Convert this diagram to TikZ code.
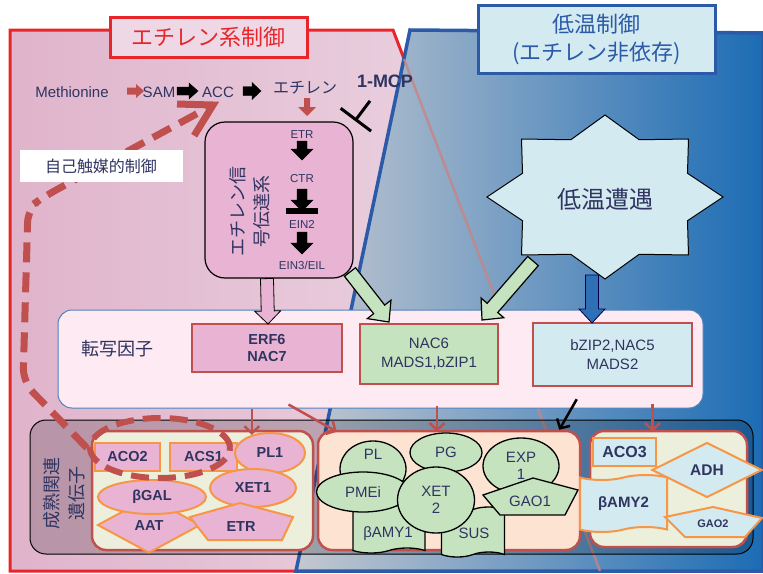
\documentclass[tikz,border=0pt]{standalone}
\usepackage{fontspec}
\setmainfont{Liberation Sans}
\newfontfamily\cjk{Noto Sans CJK JP}
\usetikzlibrary{positioning, calc, arrows.meta, shapes.geometric, shapes.symbols}

\definecolor{ink}{HTML}{2F3461}
\definecolor{brick}{HTML}{C0504D}
\definecolor{redline}{HTML}{E8262A}
\definecolor{blueline}{HTML}{2A5AA8}
\definecolor{titlepink}{HTML}{EED8E6}
\definecolor{pinkL}{HTML}{E0B4CB}
\definecolor{pinkR}{HTML}{EDDAE6}
\definecolor{grayL}{HTML}{C4C8D0}
\definecolor{blueR}{HTML}{1C6CB4}
\definecolor{pinkbox}{HTML}{E9B3D3}
\definecolor{greenbox}{HTML}{C6E3C0}
\definecolor{icebox}{HTML}{D3EAF0}
\definecolor{peach}{HTML}{FDE3D2}
\definecolor{cream}{HTML}{EBEFDC}
\definecolor{orangeline}{HTML}{F79646}
\definecolor{tfpink}{HTML}{FDEAF2}
\definecolor{tfblue}{HTML}{4F81BD}
\definecolor{coldblue}{HTML}{2E6FB5}
\definecolor{fadedred}{HTML}{C88484}

\tikzset{
  every node/.style={text=ink}, % dark navy text everywhere
  titlebox/.style={draw, line width=3pt, inner sep=0pt, font=\cjk\fontsize{22}{28}\selectfont},
  sigstep/.style={inner sep=1pt, font=\fontsize{11.5}{13}\selectfont},
  tfgene/.style={draw=brick, line width=2.5pt, inner sep=0pt, align=center, font=\fontsize{15}{19}\selectfont},
  genebox/.style={draw=brick, line width=2.5pt, rounded corners=14pt, inner sep=0pt},
  ethgene/.style={draw=orangeline, line width=2pt, fill=pinkbox, inner sep=0pt, font=\bfseries\fontsize{14.5}{17}\selectfont},
  coldgene/.style={draw=black, line width=1.3pt, fill=greenbox, inner sep=0pt, align=center, font=\fontsize{15}{17}\selectfont},
  icegene/.style={draw=orangeline, line width=2pt, fill=icebox, inner sep=0pt, font=\bfseries\fontsize{15}{17}\selectfont},
  genelabel/.style={inner sep=0pt, font=\bfseries\fontsize{14.5}{17}\selectfont},
  redarrow/.style={brick, line width=2.5pt, -{Straight Barb[length=7pt,width=15pt]}},
  dashedred/.style={brick, line width=7pt, dash pattern=on 20pt off 10pt},
}

% block arrow: style, from, to, half shaft, half head, head length
\newcommand\fatarrow[6]{%
  \coordinate (fabase) at ($(#3)!#6!(#2)$);
  \draw[#1] ($(#2)!#4!90:(#3)$) -- ($(fabase)!#4!90:(#3)$) -- ($(fabase)!#5!90:(#3)$) -- (#3)
    -- ($(fabase)!#5!-90:(#3)$) -- ($(fabase)!#4!-90:(#3)$) -- ($(#2)!#4!-90:(#3)$) -- cycle;
}

\begin{document}
\begin{tikzpicture}[x=1pt, y=-1pt]
  \useasboundingbox (0,0) rectangle (763,573);

  % the two regions
  \draw[redline, line width=3pt, left color=pinkL, right color=pinkR]
    (10,30) -- (393,30) -- (600,571) -- (10,571) -- cycle;
  \draw[blueline, line width=3.5pt, left color=grayL, right color=blueR]
    (410,30) -- (763,33) -- (763,571) -- (296,571) -- cycle;
  \draw[fadedred, opacity=.8, line width=2.5pt] (404,59) -- (600,571);

  \node[titlebox, draw=redline, fill=titlepink, text=redline, minimum width=197pt, minimum height=40pt] (ethtitle) at (208.5,37) {エチレン系制御};
  \node[titlebox, draw=blueline, fill=icebox, text=blueline, align=center, minimum width=237pt, minimum height=68pt] (coldtitle) at (596.5,39) {低温制御\\(エチレン非依存)};

  % biosynthesis row
  \node[font=\fontsize{15}{17}\selectfont] (met) at (72,92) {Methionine};
  \node[font=\fontsize{15}{17}\selectfont] (sam) at (159,92) {SAM};
  \node[font=\fontsize{15}{17}\selectfont] (acc) at (218,92) {ACC};
  \node[font=\cjk\fontsize{16}{18}\selectfont] (eth) at (305,88) {エチレン};
  \node[font=\bfseries\fontsize{18}{20}\selectfont] (mcp) at (385,81) {1-MCP};
  \fatarrow{fill=brick, draw=none}{127,91}{144,91}{3.5pt}{7pt}{8pt}
  \fatarrow{fill=black}{177,91}{198,91}{4pt}{8pt}{9pt}
  \fatarrow{fill=black}{243,91}{261,91}{4.5pt}{8.5pt}{9pt}
  \fatarrow{fill=brick, draw=none}{307,98}{307,116}{3pt}{9pt}{9pt}
  \draw[line width=3pt, -{Bar[width=38pt, line width=3pt]}] ($(mcp.south)+(-15,10)$) -- ++(-15,20);

  % signalling box
  \node[draw, line width=1.2pt, fill=pinkbox, rounded corners=20pt, minimum width=148pt, minimum height=156pt] (sig) at (279,200) {};
  \node[rotate=90, align=center, font=\cjk\fontsize{18}{24}\selectfont] (sigtext) at (250,211) {エチレン信\\号伝達系};
  \node[sigstep] (etr) at (302,135) {ETR};
  \node[sigstep] (ctr) at (302,179) {CTR};
  \node[sigstep] (ein2) at (302,224) {EIN2};
  \node[sigstep] (ein3) at (302,265) {EIN3/EIL};
  \fatarrow{fill=black}{302,141}{302,160}{5pt}{11pt}{11pt}
  \fatarrow{fill=black}{302,189}{302,211}{5pt}{11pt}{11pt}
  \fill (286,208) rectangle (318,214);
  \fatarrow{fill=black}{302,232}{302,254}{5pt}{11pt}{11pt}

  % cold stress star
  \draw[fill=icebox, line width=1pt] plot[samples at={0,...,15}, variable=\k]
    ({605+1.44*(82-20*mod(\k,2))*cos(90+22.5*\k)}, {197-(82-20*mod(\k,2))*sin(90+22.5*\k)}) -- cycle;
  \node[font=\cjk\fontsize{24}{26}\selectfont] (cold) at (605,199) {低温遭遇};

  % transcription factors
  \node[draw=tfblue, line width=1pt, fill=tfpink, rounded corners=14pt, minimum width=645pt, minimum height=98pt] (tf) at (380.5,359) {};
  \node[font=\cjk\fontsize{18}{20}\selectfont] (tflabel) at (117,349) {転写因子};
  \node[tfgene, fill=pinkbox, font=\bfseries\fontsize{14.5}{17.5}\selectfont, minimum width=150pt, minimum height=48pt] (erf6) at (267,348) {ERF6\\NAC7};
  \node[tfgene, fill=greenbox, minimum width=138pt, minimum height=60pt] (nac6) at (429,354) {NAC6\\MADS1,bZIP1};
  \node[tfgene, fill=icebox, minimum width=159pt, minimum height=63pt] (bzip) at (612.5,354.5) {bZIP2,NAC5\\MADS2};

  \fatarrow{fill=pinkbox, draw=black, line width=.8pt}{erf6.north |- sig.south}{268,324}{6.5pt}{13pt}{13pt}
  \fatarrow{fill=greenbox, draw=black, line width=1.2pt}{350,272}{389,322}{7pt}{15pt}{16pt}
  \fatarrow{fill=greenbox, draw=black, line width=1.2pt}{533,261}{482,320}{7pt}{15pt}{16pt}
  \fatarrow{fill=coldblue, draw=black!70!blue, line width=.8pt}{592,275}{592,323}{6.5pt}{13pt}{14pt}

  % ripening genes
  \node[draw=black, line width=1pt, fill=black, fill opacity=.18, rounded corners=16pt, minimum width=723pt, minimum height=134pt] (mat) at (391.5,487) {};
  \node[rotate=90, align=center, font=\cjk\fontsize{18}{25}\selectfont] (matlabel) at (64,493) {成熟関連\\遺伝子};
  \node[genebox, fill=cream, minimum width=221pt, minimum height=119pt] (box1) at (202.5,490.5) {};
  \node[genebox, fill=peach, minimum width=262pt, minimum height=119pt] (box2) at (449,490.5) {};
  \node[genebox, fill=cream, minimum width=157pt, minimum height=116pt] (box3) at (668.5,489) {};

  % ethylene dependent
  \node[ethgene, minimum width=65pt, minimum height=28pt] (aco2) at (127.5,457) {ACO2};
  \node[ethgene, minimum width=67pt, minimum height=28pt] (acs1) at (203.5,457) {ACS1};
  \node[ethgene, ellipse, minimum width=70pt, minimum height=40pt] (pl1) at (270,453) {PL1};
  \node[ethgene, ellipse, minimum width=86pt, minimum height=38pt] (xet1) at (253,488) {XET1};
  \node[ethgene, diamond, minimum width=103pt, minimum height=56pt] (aat) at (149,525) {};
  \node[ethgene, ellipse, minimum width=108pt, minimum height=34pt] (bgal) at (152,497) {βGAL};
  \node[genelabel] (aattext) at (149,526) {AAT};
  \filldraw[draw=orangeline, line width=2pt, fill=pinkbox] (240,503) -- (293,517) -- (282,540) -- (208,540) -- (190,517) -- cycle;
  \node[genelabel] (etrgene) at (241,527) {ETR};

  % ethylene and cold
  \node[coldgene, ellipse, minimum width=66pt, minimum height=56pt] (pl) at (373,469) {PL\\[12pt]};
  \node[coldgene, ellipse, minimum width=72pt, minimum height=39pt] (pg) at (446,452.5) {PG};
  \node[coldgene, ellipse, minimum width=76pt, minimum height=56pt] (exp) at (521,466) {EXP\\1};
  \node[coldgene, tape, minimum width=72pt, minimum height=48pt] (bamy1) at (389,529) {};
  \node[coldgene, tape, minimum width=63pt, minimum height=50pt] (sus) at (473,532) {};
  \node[inner sep=0pt, font=\fontsize{15}{17}\selectfont] (bamy1text) at (388,534) {βAMY1};
  \node[inner sep=0pt, font=\fontsize{15}{17}\selectfont] (sustext) at (474,533) {SUS};
  \node[coldgene, ellipse, minimum width=93pt, minimum height=40pt] (pmei) at (363,492) {PMEi};
  \node[coldgene, ellipse, minimum width=77pt, minimum height=66pt] (xet2) at (436,500) {XET\\2};
  \filldraw[draw=black, line width=1.3pt, fill=greenbox] (533,478) -- (578,490) -- (565,515) -- (500,515) -- (483,495) -- cycle;
  \node[inner sep=0pt, font=\fontsize{15}{17}\selectfont] (gao1) at (530,501) {GAO1};

  % cold only
  \node[icegene, minimum width=63pt, minimum height=28pt, font=\bfseries\fontsize{16}{18}\selectfont] (aco3) at (624.5,452) {ACO3};
  \node[icegene, tape, minimum width=87pt, minimum height=57pt] (bamy2) at (623.5,503.5) {βAMY2};
  \node[icegene, diamond, minimum width=110pt, minimum height=55pt, font=\bfseries\fontsize{15.5}{17}\selectfont] (adh) at (707,470) {ADH};
  \filldraw[draw=orangeline, line width=2pt, fill=icebox] (665,517) -- (713,507) -- (762,518) -- (745,537) -- (685,537) -- cycle;
  \node[genelabel, font=\bfseries\fontsize{11}{13}\selectfont] (gao2) at (713,524) {GAO2};

  % regulation of the genes
  \draw[redarrow] (pl1.135 |- tf.south) -- (pl1.135);
  \draw[redarrow] ($(tf.south)+(-92,-4)$) -- ($(box2.north west)+(20,2)$);
  \draw[redarrow] ($(tf.south)+(56.5,-3)$) -- ($(box2.north)+(-12,2)$);
  \draw[line width=2.5pt, -{Straight Barb[length=7pt,width=15pt]}] ($(bzip.south west)+(45,12)$) -- ($(box2.north east)+(-22,0)$);
  \draw[redarrow] ($(box3.north)+(-16,-26)$) -- ($(box3.north)+(-16,2)$);

  % autocatalysis
  \node[ellipse, draw=brick, line width=6pt, dash pattern=on 18pt off 9pt, minimum width=140pt, minimum height=60pt] (loop) at (160,448) {};
  \coordinate (autotip) at (213,105);
  \draw[dashedred, rounded corners=14pt] (loop.west) -- (23,382) -- (28,208) -- (45,196) -- ($(autotip)!6pt!(45,196)$);
  \draw[brick, line width=7pt, line join=miter]
    ($(autotip)!36pt!30:(45,196)$) -- (autotip) -- ($(autotip)!36pt!-30:(45,196)$);
  \node[fill=white, minimum width=163pt, minimum height=32pt, font=\cjk\fontsize{16}{18}\selectfont] (autolabel) at (101,166) {自己触媒的制御};
\end{tikzpicture}
\end{document}
